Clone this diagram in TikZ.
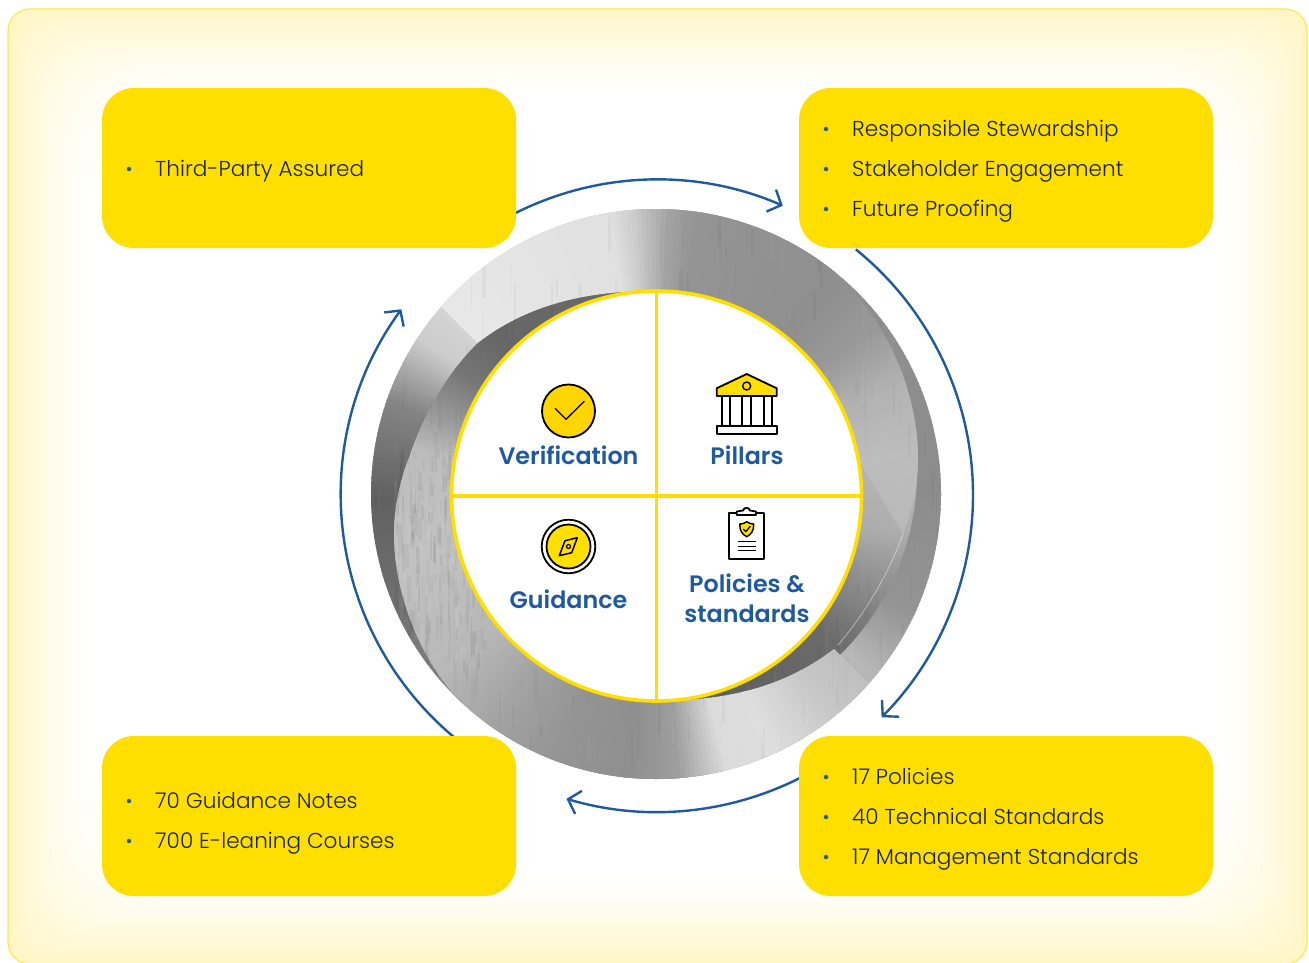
\documentclass[tikz,border=0pt]{standalone}
\usepackage{fontspec}
\setmainfont{Poppins}[UprightFont=* Light,BoldFont=* SemiBold]
\usetikzlibrary{arrows.meta,calc}
\definecolor{boxyellow}{HTML}{FFDF00}
\definecolor{glowy}{HTML}{FFD910}
\definecolor{flowblue}{HTML}{1F5AA0}
\definecolor{inktext}{HTML}{1C2333}
\definecolor{framey}{HTML}{FFE94A}
% conic gradient: #1 cx, #2 cy, #3 list of a1/g1/a2/g2 (degrees, gray level)
\newcommand{\conicfill}[3]{%
  \foreach \aa/\ga/\ab/\gb in {#3}{%
    \pgfmathtruncatemacro{\nsteps}{max(1,abs(\ab-\aa))}%
    \foreach \st in {0,...,\nsteps}{%
      \pgfmathsetmacro{\ang}{\aa+(\ab-\aa)*\st/\nsteps}%
      \pgfmathsetmacro{\angb}{\ang+(\ab-\aa)/\nsteps*1.6}%
      \pgfmathsetmacro{\gv}{\ga+(\gb-\ga)*\st/\nsteps}%
      \definecolor{wedgec}{gray}{\gv}%
      \fill[wedgec] (#1,#2) -- ($(#1,#2)+(\ang:340)$) -- ($(#1,#2)+(\angb:340)$) -- cycle;%
    }%
  }%
}
\tikzset{
  panel/.style={fill=boxyellow,rounded corners=32,minimum width=414,minimum height=160,inner sep=0,draw=none},
  item/.style={anchor=base west,font=\fontsize{21.6}{26}\selectfont,text=inktext,inner sep=0},
  dot/.style={circle,fill=flowblue,minimum size=4.5,inner sep=0},
  flow/.style={draw=flowblue,line width=2.4,-{Straight Barb[length=11,width=24,line width=2.4]}},
  seg/.style={anchor=base,font=\fontsize{23.8}{30}\selectfont\bfseries,text=flowblue,inner sep=0},
  ink/.style={draw=black,line width=1.8,line join=round},
}
\begin{document}
\begin{tikzpicture}[x=1pt,y=-1pt]
\useasboundingbox (0,0) rectangle (1309,963);
\clip (0,0) rectangle (1309,963);
\fill[white] (0,0) rectangle (1309,963);
% background glow
\foreach \i in {0,...,44}{
  \pgfmathsetmacro{\mixv}{24*(1-\i/44)^1.5}
  \pgfmathsetmacro{\rr}{22+\i*2.6}
  \pgfmathsetmacro{\ins}{\i*2.1}
  \fill[rounded corners=\rr,color=glowy!\mixv!white] (8+\ins,9+\ins) rectangle (1307-\ins,964-\ins);
}
\draw[framey,line width=1.2,rounded corners=22] (8,9) rectangle (1307,964);
% flow arcs
\coordinate (hub) at (657,495);
\coordinate (a1s) at ($(hub)+(-116.6:315.5)$);
\coordinate (a2s) at ($(hub)+(-51:316)$);
\coordinate (a3s) at ($(hub)+(63:317)$);
\coordinate (a4s) at ($(hub)+(130:316)$);
\draw[flow] (a1s) arc[start angle=-116.6,end angle=-66.5,radius=315.5];
\draw[flow] (a2s) arc[start angle=-51,end angle=44.7,radius=316];
\draw[flow] (a3s) arc[start angle=63,end angle=106.6,radius=317];
\draw[flow] (a4s) arc[start angle=130,end angle=216,radius=316];
% ring
\begin{scope}
  \clip (656,494) circle[radius=285];
  % outer crescents
  \conicfill{656}{496}{-125/.88/-146/.80, -146/.80/-160/.52, -160/.52/-180/.38, 180/.38/164/.42, 164/.42/135/.52, 135/.52/60/.60, 60/.60/40/.72, 40/.72/25/.58, 25/.58/0/.55, 0/.55/-55/.56, -55/.56/-125/.88}
  % dark inner crescent, lower right
  \begin{scope}
    \clip (657,470) circle[radius=260];
    \conicfill{656}{496}{-15/.72/8/.68, 8/.68/19/.58, 19/.58/39/.42, 39/.42/66/.38, 66/.38/95/.36}
  \end{scope}
  % upper ribbon
  \begin{scope}
    \clip (444,309) -- (425,290) -- (440,170) -- (870,170) -- (850,254) -- (834,274) .. controls (888,318) and (918,395) .. (918,458)
      .. controls (918,485) and (912,512) .. (903,534) -- (850,445) -- (656,496) -- (656,291)
      .. controls (590,291) and (530,303) .. (478,343) -- cycle;
    \conicfill{656}{496}{-142/.91/-100/.88, -100/.88/-95/.80, -95/.80/-88/.64, -88/.64/-82/.58, -82/.58/-50/.56, -50/.56/-38/.60, -38/.60/-25/.70, -25/.70/-10/.74, -10/.74/14/.72}
  \end{scope}
  % lower ribbon, running up the left side into the dark crescent
  \begin{scope}
    \clip (868,683) -- (887,702) -- (872,822) -- (440,822) -- (462,738) -- (478,718) .. controls (424,674) and (394,597) .. (394,534)
      .. controls (394,507) and (400,480) .. (409,458) .. controls (424,412) and (450,370) .. (478,343)
      .. controls (530,303) and (590,291) .. (656,291) -- (656,701)
      .. controls (722,701) and (782,689) .. (834,649) -- cycle;
    \conicfill{656}{496}{38/.74/50/.78, 50/.78/65/.87, 65/.87/75/.86, 75/.86/85/.62, 85/.62/95/.56, 95/.56/110/.58, 110/.58/125/.64, 125/.64/140/.72, 140/.72/165/.76, 165/.76/190/.74, 190/.74/200/.60, 200/.60/212/.46, 212/.46/225/.40, 225/.40/275/.42}
  \end{scope}
  % brushed streaks
  \pgfmathsetseed{42}
  \foreach \n in {1,...,500}{
    \pgfmathsetmacro{\sx}{371+rnd*570}
    \pgfmathsetmacro{\sy}{209+rnd*540}
    \pgfmathsetmacro{\sl}{10+rnd*40}
    \pgfmathsetmacro{\sw}{1+rnd*3}
    \pgfmathsetmacro{\so}{0.012+rnd*0.025}
    \pgfmathtruncatemacro{\sb}{rnd>0.5?1:0}
    \ifnum\sb=1 \def\sc{white}\else\def\sc{black}\fi
    \fill[\sc,opacity=\so] (\sx,\sy) rectangle ++(\sw,\sl);
  }
  \foreach \n in {1,...,350}{
    \pgfmathsetmacro{\sx}{394+rnd*90}
    \pgfmathsetmacro{\sy}{440+rnd*230}
    \pgfmathsetmacro{\sl}{8+rnd*22}
    \pgfmathsetmacro{\sw}{1+rnd*3}
    \pgfmathsetmacro{\so}{0.02+rnd*0.035}
    \pgfmathtruncatemacro{\sb}{rnd>0.55?1:0}
    \ifnum\sb=1 \def\sc{white}\else\def\sc{black}\fi
    \fill[\sc,opacity=\so] (\sx,\sy) rectangle ++(\sw,\sl);
  }
  % seam highlights
  \draw[white,opacity=.45,line width=.8] (903,534) .. controls (890,570) and (868,610) .. (838,645);
  \draw[white,opacity=.25,line width=.8] (444,309) -- (478,343);
\end{scope}
% centre disc
\node[circle,fill=white,draw=boxyellow,line width=3.6,minimum size=410,inner sep=0] (disc) at (656.5,496) {};
\draw[boxyellow,line width=3.6] (disc.north) -- (disc.south);
\draw[boxyellow,line width=3.6] (disc.west) -- (disc.east);
% panels
\node[panel] (tl) at (309,168) {};
\node[panel] (tr) at (1006,168) {};
\node[panel] (bl) at (309,816) {};
\node[panel] (br) at (1006,816) {};
% panel text
\node[dot] (d1) at (129,169) {};
\node[item] (t1) at (155,176.5) {Third-Party Assured};
\node[dot] (d2) at (826,129) {};
\node[item] (t2) at (852,136.5) {Responsible Stewardship};
\node[dot] (d3) at (826,169) {};
\node[item] (t3) at (852,176.5) {Stakeholder Engagement};
\node[dot] (d4) at (826,209) {};
\node[item] (t4) at (852,216.5) {Future Proofing};
\node[dot] (d5) at (129,801) {};
\node[item] (t5) at (155,808.5) {70 Guidance Notes};
\node[dot] (d6) at (129,841) {};
\node[item] (t6) at (155,848.5) {700 E-leaning Courses};
\node[dot] (d7) at (826,777) {};
\node[item] (t7) at (852,784.5) {17 Policies};
\node[dot] (d8) at (826,817) {};
\node[item] (t8) at (852,824.5) {40 Technical Standards};
\node[dot] (d9) at (826,857) {};
\node[item] (t9) at (852,864.5) {17 Management Standards};
% labels
\node[seg] (l1) at (568.5,464) {Verification};
\node[seg] (l2) at (747,464) {Pillars};
\node[seg] (l3) at (568.5,608) {Guidance};
\node[seg] (l4) at (747,592) {Policies \&};
\node[seg] (l5) at (747,622) {standards};
% verification icon
\draw[ink,fill=boxyellow!90!orange] (568.5,411) circle[radius=26.5];
\draw[black,line width=1.3] (555,408.3) -- (566,419.3) -- (584.3,401.3);
% pillars icon
\foreach \xa/\xb in {721.7/730,742.3/751,763.7/772.3}{
  \draw[ink,fill=white] (\xa,396) rectangle (\xb,426);
}
\draw[ink,fill=boxyellow] (716.7,396) -- (716.7,388.3) -- (746.7,374) -- (776.7,388.3) -- (776.7,396) -- cycle;
\draw[ink,line width=1.4] (746.7,386) circle[radius=4];
\draw[ink,fill=white] (716.7,426) rectangle (776.7,434);
% guidance icon
\draw[ink,fill=white] (568.5,546.5) circle[radius=26.8];
\draw[ink,fill=boxyellow] (568.5,546.5) circle[radius=22];
\draw[ink,line width=1.5] (577.3,537.7) -- (565,540.7) -- (559.3,555.7) -- (571.7,552.7) -- cycle;
\draw[ink,line width=1.2] (568.5,546.5) circle[radius=2];
% policies icon
\draw[ink,fill=white] (729.3,513.3) rectangle (764.3,559.3);
\draw[ink,fill=white] (736.7,515) -- (736.7,511.5) -- (743,510.5) .. controls (744,507) and (749,507) .. (750,510.5) -- (756,511.5) -- (756,515) -- cycle;
\draw[ink,fill=boxyellow,line width=1.4] (746.7,521.7) .. controls (749,523.5) and (751.5,524) .. (753.7,524) .. controls (754,531) and (751,534.5) .. (746.7,536.7) .. controls (742.5,534.5) and (739.5,531) .. (739.7,524) .. controls (742,524) and (744.5,523.5) .. (746.7,521.7) -- cycle;
\draw[black,line width=1.3] (743.3,529) -- (745.8,531.5) -- (750.3,526.3);
\foreach \yy in {541.7,546.3,550.7}{\draw[black,line width=1.4] (737.7,\yy) -- (756,\yy);}
\end{tikzpicture}
\end{document}
